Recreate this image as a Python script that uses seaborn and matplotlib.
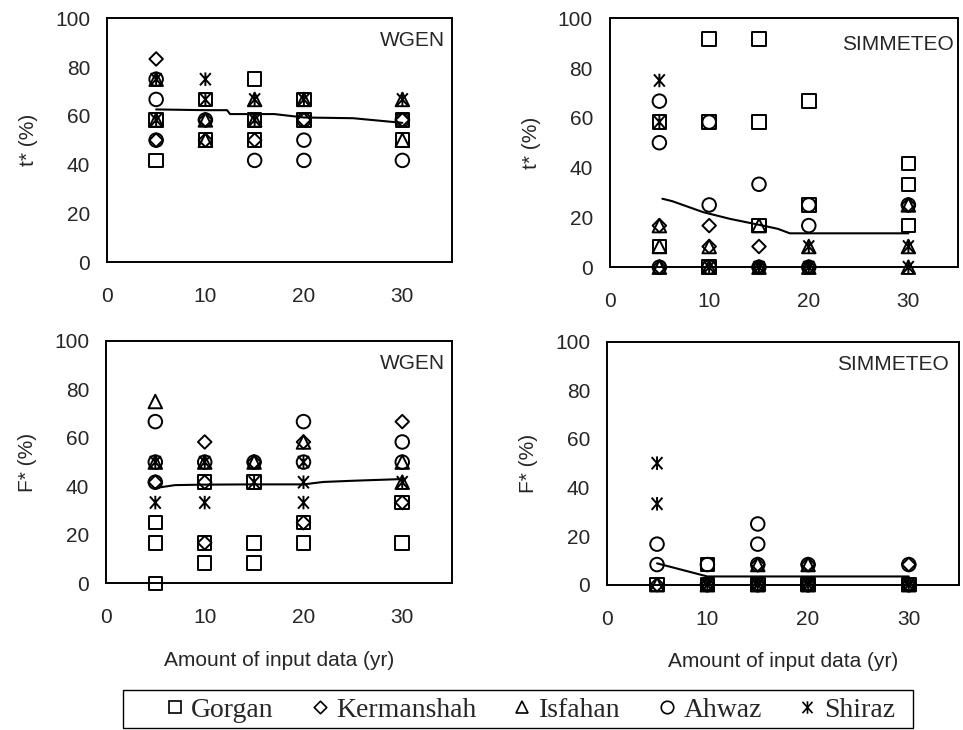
import pandas as pd
import matplotlib
matplotlib.use("Agg")
import matplotlib.pyplot as plt
from matplotlib.path import Path
from matplotlib.lines import Line2D
from matplotlib.patches import Rectangle
import seaborn as sns

# stations and their marker
stations = ["Gorgan", "Kermanshah", "Isfahan", "Ahwaz", "Shiraz"]

# t* (%) with WGEN : (input years, value)
tw_gorgan = [(5, 58.3), (5, 41.7), (10, 66.7), (10, 50), (15, 75), (15, 58.3), (15, 50),
             (20, 66.7), (20, 58.3), (30, 58.3), (30, 50)]
tw_kermanshah = [(5, 83.3), (5, 50), (10, 58.3), (10, 50), (15, 50), (20, 58.3), (30, 58.3)]
tw_isfahan = [(5, 75), (5, 58.3), (10, 58.3), (10, 50), (15, 66.7), (15, 58.3), (20, 66.7),
              (30, 66.7), (30, 50)]
tw_ahwaz = [(5, 75), (5, 66.7), (5, 50), (10, 58.3), (15, 41.7), (20, 58.3), (20, 50),
            (20, 41.7), (30, 58.3), (30, 41.7)]
tw_shiraz = [(5, 75), (5, 58.3), (10, 75), (10, 66.7), (15, 66.7), (15, 58.3), (20, 66.7), (30, 66.7)]
tw_line_x = [5, 10, 12.2, 12.5, 17, 20, 25, 30]
tw_line_y = [62.6, 62.3, 62.3, 60.7, 60.7, 59.3, 59.0, 57.1]

# t* (%) with SIMMETEO
ts_gorgan = [(5, 58.3), (5, 8.3), (10, 91.7), (10, 58.3), (10, 0), (15, 91.7), (15, 58.3),
             (15, 16.7), (20, 66.7), (20, 25), (30, 41.7), (30, 33.3), (30, 16.7)]
ts_kermanshah = [(5, 16.7), (5, 0), (10, 16.7), (10, 8.3), (15, 8.3), (15, 0), (20, 0), (30, 25)]
ts_isfahan = [(5, 16.7), (5, 8.3), (5, 0), (10, 8.3), (10, 0), (15, 16.7), (15, 0), (20, 8.3),
              (20, 0), (30, 25), (30, 8.3), (30, 0)]
ts_ahwaz = [(5, 66.7), (5, 50), (5, 0), (10, 58.3), (10, 25), (10, 0), (15, 33.3), (15, 0),
            (20, 25), (20, 16.7), (20, 0), (30, 25)]
ts_shiraz = [(5, 75), (5, 58.3), (10, 0), (15, 0), (20, 8.3), (20, 0), (30, 8.3), (30, 0)]
ts_line_x = [5.3, 6.3, 9.4, 12.1, 15.4, 16.9, 18.1, 30]
ts_line_y = [27.5, 26.5, 22.1, 19.4, 16.7, 15.4, 13.6, 13.6]

# F* (%) with WGEN
fw_gorgan = [(5, 25), (5, 16.7), (5, 0), (10, 41.7), (10, 16.7), (10, 8.3), (15, 41.7),
             (15, 16.7), (15, 8.3), (20, 25), (20, 16.7), (30, 33.3), (30, 16.7)]
fw_kermanshah = [(5, 41.7), (10, 58.3), (10, 41.7), (10, 16.7), (15, 50), (20, 58.3), (20, 25),
                 (30, 66.7), (30, 33.3)]
fw_isfahan = [(5, 75), (5, 50), (10, 50), (15, 50), (20, 58.3), (30, 50), (30, 41.7)]
fw_ahwaz = [(5, 66.7), (5, 50), (5, 41.7), (10, 50), (15, 50), (20, 66.7), (20, 50),
            (30, 58.3), (30, 50)]
fw_shiraz = [(5, 50), (5, 33.3), (10, 50), (10, 33.3), (15, 41.7), (20, 50), (20, 41.7),
             (20, 33.3), (30, 41.7)]
fw_line_x = [5, 7, 10, 15, 20, 22, 25, 30]
fw_line_y = [39.3, 40.5, 40.7, 40.8, 40.8, 41.8, 42.3, 43.0]

# F* (%) with SIMMETEO
fs_gorgan = [(5, 0), (10, 8.3), (10, 0), (15, 0), (20, 0), (30, 0)]
fs_kermanshah = [(5, 0), (10, 0), (15, 8.3), (15, 0), (20, 8.3), (20, 0), (30, 8.3), (30, 0)]
fs_isfahan = [(5, 0), (10, 0), (15, 8.3), (15, 0), (20, 8.3), (20, 0), (30, 0)]
fs_ahwaz = [(5, 16.7), (5, 8.3), (10, 8.3), (10, 0), (15, 25), (15, 16.7), (15, 8.3), (15, 0),
            (20, 8.3), (20, 0), (30, 8.3), (30, 0)]
fs_shiraz = [(5, 50), (5, 33.3), (10, 0), (15, 0), (20, 0), (30, 0)]
fs_line_x = [5, 10, 30]
fs_line_y = [8.8, 3.4, 3.4]

sns.set_style("white")
plt.rcParams["font.family"] = ["Liberation Sans", "DejaVu Sans"]

# marker shapes
diamond = Path([(0, 1), (1, 0), (0, -1), (-1, 0), (0, 1)],
               [Path.MOVETO, Path.LINETO, Path.LINETO, Path.LINETO, Path.CLOSEPOLY])
star = Path([(0, 1), (0, -1), (-0.8, 0.9), (0.8, -0.9), (-0.8, -0.9), (0.8, 0.9)],
            [Path.MOVETO, Path.LINETO, Path.MOVETO, Path.LINETO, Path.MOVETO, Path.LINETO])
markers = {"Gorgan": "s", "Kermanshah": diamond, "Isfahan": "^", "Ahwaz": "o", "Shiraz": star}


def make_df(groups):
    rows = []
    for name, pts in zip(stations, groups):
        for x, y in pts:
            rows.append({"x": x, "y": y, "station": name})
    return pd.DataFrame(rows)


panels = [
    ([tw_gorgan, tw_kermanshah, tw_isfahan, tw_ahwaz, tw_shiraz], tw_line_x, tw_line_y,
     "t* (%)", "WGEN", [0.111, 0.641, 0.358, 0.334], (0.98, 0.91), False),
    ([ts_gorgan, ts_kermanshah, ts_isfahan, ts_ahwaz, ts_shiraz], ts_line_x, ts_line_y,
     "t* (%)", "SIMMETEO", [0.633, 0.634, 0.362, 0.341], (0.988, 0.896), False),
    ([fw_gorgan, fw_kermanshah, fw_isfahan, fw_ahwaz, fw_shiraz], fw_line_x, fw_line_y,
     "F* (%)", "WGEN", [0.110, 0.201, 0.359, 0.332], (0.98, 0.907), True),
    ([fs_gorgan, fs_kermanshah, fs_isfahan, fs_ahwaz, fs_shiraz], fs_line_x, fs_line_y,
     "F* (%)", "SIMMETEO", [0.630, 0.199, 0.366, 0.333], (0.971, 0.905), True),
]

fig = plt.figure(figsize=(9.63, 7.3), dpi=100)

for groups, lx, ly, ylab, model, rect, tpos, bottom in panels:
    ax = fig.add_axes(rect)
    df = make_df(groups)
    sns.scatterplot(data=df, x="x", y="y", style="station", style_order=stations,
                    markers=markers, color="black", facecolors="none", edgecolor="black",
                    linewidth=1.4, s=95, legend=False, clip_on=False, zorder=3, ax=ax)
    sns.lineplot(x=lx, y=ly, color="black", linewidth=1.5, ax=ax, zorder=4)
    ax.set_xlim(0, 35)
    ax.set_ylim(0, 100)
    ax.set_xticks([0, 10, 20, 30])
    ax.set_yticks([0, 20, 40, 60, 80, 100])
    ax.tick_params(axis="x", length=0, pad=18, labelsize=15)
    ax.tick_params(axis="y", length=0, pad=12, labelsize=15)
    ax.set_ylabel(ylab, fontsize=15, labelpad=12)
    if bottom:
        ax.set_xlabel("Amount of input data (yr)", fontsize=15, labelpad=17)
    else:
        ax.set_xlabel("")
    for sp in ax.spines.values():
        sp.set_color("black")
        sp.set_linewidth(1.4)
    ax.text(tpos[0], tpos[1], model, transform=ax.transAxes, ha="right", va="center",
            fontsize=15)

# legend at the bottom, inside its own box
box = Rectangle((123 / 963, 1 - 728 / 730), 790 / 963, 38 / 730, transform=fig.transFigure,
                fill=False, edgecolor="black", linewidth=1.0)
fig.patches.append(box)

handles = [Line2D([], [], linestyle="none", marker=markers[n], markersize=9,
                  markerfacecolor="none", markeredgecolor="black", markeredgewidth=1.2)
           for n in stations]
leg = fig.legend(handles, stations, loc="center", bbox_to_anchor=(530 / 963, 1 - 710 / 730),
                 ncol=5, frameon=False, handlelength=0.7, handletextpad=0.25,
                 columnspacing=1.3, borderpad=0.1,
                 prop={"family": "Liberation Serif", "size": 20})

fig.savefig("out.png", dpi=100)
